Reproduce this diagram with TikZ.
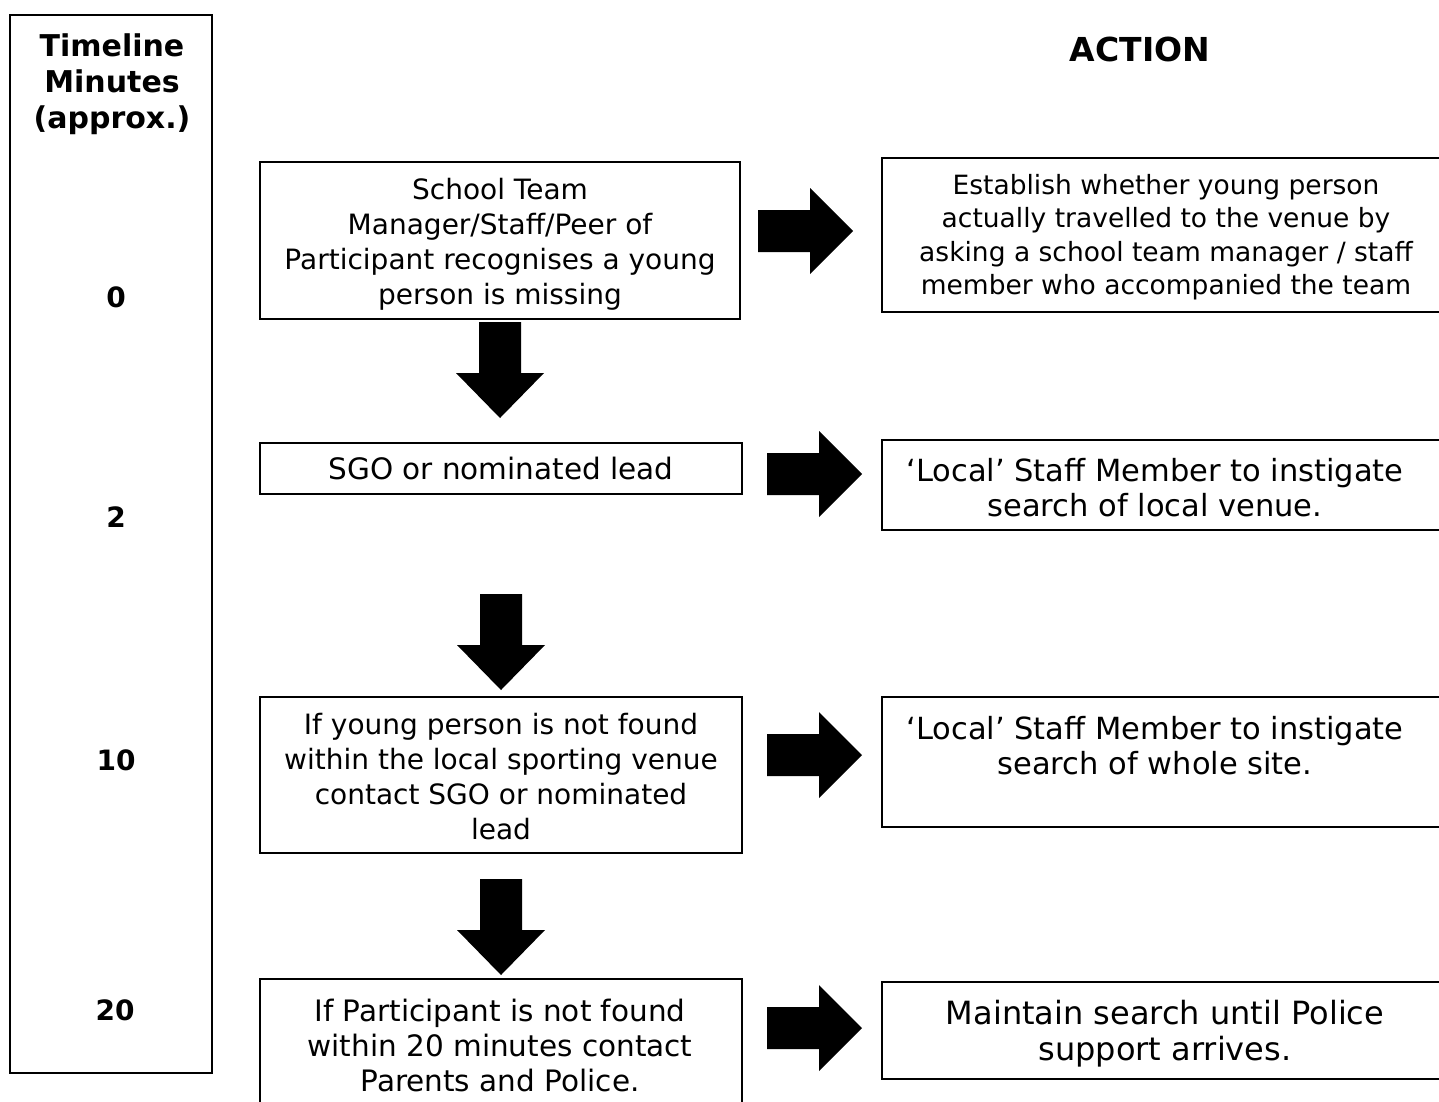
\documentclass[tikz,border=0pt]{standalone}
\usepackage{fontspec}
\setmainfont{DejaVu Sans}
\begin{document}
\begin{tikzpicture}[x=1pt,y=-1pt,
  box/.style={draw=black,line width=1.4pt,inner sep=0pt},
  txt/.style={align=center,font=\fontsize{28}{35}\selectfont,inner sep=0pt},
  rtxt/.style={align=center,font=\fontsize{26.5}{33.5}\selectfont,inner sep=0pt},
  bold/.style={align=center,font=\fontsize{30}{36}\selectfont\bfseries,inner sep=0pt},
  rarr/.pic={\fill[black] (0,-21) -- (52,-21) -- (52,-43) -- (95,0) -- (52,43) -- (52,21) -- (0,21) -- cycle;},
  darr/.pic={\fill[black] (-21,0) -- (-21,51) -- (-44,51) -- (0,96) -- (44,51) -- (21,51) -- (21,0) -- cycle;}
]
\useasboundingbox (0,0) rectangle (1439,1101);
\clip (0,0) rectangle (1439,1101);
% timeline column
\draw[box] (10,15) rectangle (212,1073);
\node[bold] (tl) at (112,84) {Timeline\\Minutes\\(approx.)};
\node[bold,font=\fontsize{28}{34}\selectfont\bfseries] (t0) at (116,297) {0};
\node[bold,font=\fontsize{28}{34}\selectfont\bfseries] (t2) at (116,517) {2};
\node[bold,font=\fontsize{28}{34}\selectfont\bfseries] (t10) at (116,760) {10};
\node[bold,font=\fontsize{28}{34}\selectfont\bfseries] (t20) at (115,1010) {20};
\node[bold,font=\fontsize{33}{40}\selectfont\bfseries] (act) at (1140,49) {ACTION};
% left boxes
\draw[box] (260,162) rectangle (740,319);
\node[txt] (b1) at (500,244) {School Team\\Manager/Staff/Peer of\\Participant recognises a young\\person is missing};
\draw[box] (260,443) rectangle (742,494);
\node[txt,font=\fontsize{29.5}{35}\selectfont] (b2) at (501,468) {SGO or nominated lead};
\draw[box] (260,697) rectangle (742,853);
\node[txt] (b3) at (501,777) {If young person is not found\\within the local sporting venue\\contact SGO or nominated\\lead};
\draw[box] (260,979) rectangle (742,1130);
\node[txt,font=\fontsize{29.5}{35}\selectfont] (b4) at (500,1045) {If Participant is not found\\within 20 minutes contact\\Parents and Police.};
% right boxes
\draw[box] (882,158) rectangle (1450,312);
\node[rtxt] (r1) at (1166,237) {Establish whether young person\\actually travelled to the venue by\\asking a school team manager / staff\\member who accompanied the team};
\draw[box] (882,440) rectangle (1450,530);
\node[txt,font=\fontsize{30.5}{35}\selectfont] (r2) at (1155,488) {`Local' Staff Member to instigate\\search of local venue.};
\draw[box] (882,697) rectangle (1450,827);
\node[txt,font=\fontsize{30.5}{35}\selectfont] (r3) at (1155,746) {`Local' Staff Member to instigate\\search of whole site.};
\draw[box] (882,982) rectangle (1450,1079);
\node[txt,font=\fontsize{32}{36}\selectfont] (r4) at (1165,1034) {Maintain search until Police\\support arrives.};
% arrows
\pic at (758,231) {rarr};
\pic at (767,474) {rarr};
\pic at (767,755) {rarr};
\pic at (767,1028) {rarr};
\pic at (500,322) {darr};
\pic at (501,594) {darr};
\pic at (501,879) {darr};
\end{tikzpicture}
\end{document}
